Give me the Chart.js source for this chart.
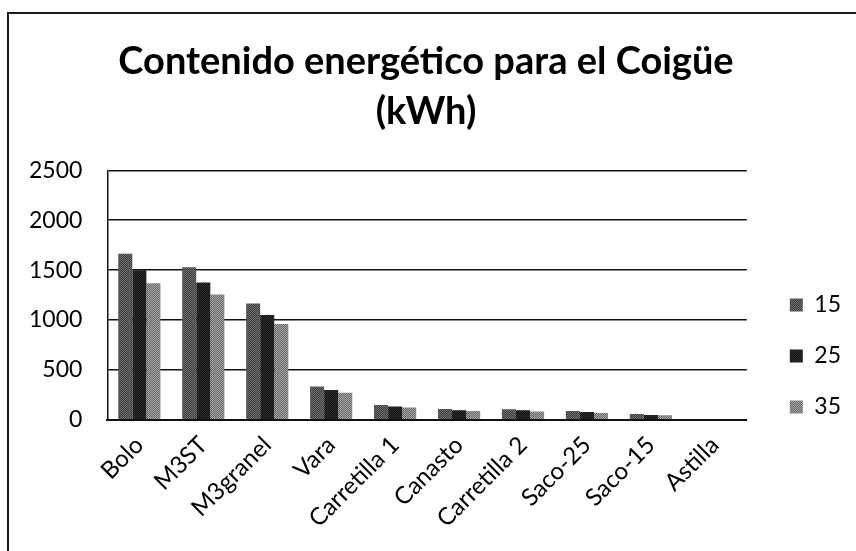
<!DOCTYPE html>
<html>
<head>
<meta charset="utf-8">
<script src="https://cdn.jsdelivr.net/npm/chart.js@4.4.0/dist/chart.umd.min.js"></script>
<style>
  body { margin: 0; background: #fff; }
  #wrap { position: relative; width: 856px; height: 551px; overflow: hidden; }
  #frame { position: absolute; left: 7px; top: 12px; width: 900px; height: 600px; border: 2px solid #1a1a1a; }
  canvas { position: absolute; left: 0; top: 0; }
</style>
</head>
<body>
<div id="wrap">
  <div id="frame"></div>
  <canvas id="chart" width="856" height="551"></canvas>
</div>
<script>
// Data
var categories = ['Bolo', 'M3ST', 'M3granel', 'Vara', 'Carretilla 1', 'Canasto', 'Carretilla 2', 'Saco-25', 'Saco-15', 'Astilla'];
var seriesNames = ['15', '25', '35'];
var values15 = [1665, 1530, 1165, 335, 150, 110, 107, 88, 58, 0];
var values25 = [1500, 1375, 1050, 300, 135, 96, 97, 80, 50, 0];
var values35 = [1368, 1255, 960, 272, 125, 88, 85, 70, 46, 0];
var yTicks = [0, 500, 1000, 1500, 2000, 2500];

var colors = {
	s15: ['#3c3c3c', '#707070'],
	s25: ['#111111', '#303030'],
	s35: ['#6a6a6a', '#a4a4a4'],
	line: '#111111',
	text: '#000000'
};

var font = "Lato, 'Open Sans', sans-serif";

// small checker pattern so the bars look dithered like the printed original
function makePattern(c) {
	var p = document.createElement('canvas');
	p.width = 4;
	p.height = 4;
	var pc = p.getContext('2d');
	pc.fillStyle = c[0];
	pc.fillRect(0, 0, 4, 4);
	pc.fillStyle = c[1];
	for (var y = 0; y < 4; y++) {
		for (var x = 0; x < 4; x++) {
			if ((x + y) % 2 == 0) pc.fillRect(x, y, 1, 1);
		}
	}
	return pc.createPattern(p, 'repeat');
}

// nudge legend and title to where they sit in the original
var nudge = {
	id: 'nudge',
	afterLayout: function(chart) {
		chart.legend.left += 15;
		chart.legend.right += 15;
		chart.legend.top += 78;
		chart.legend.bottom += 78;
		chart.titleBlock.left += 6;
		chart.titleBlock.right += 6;
	}
};

var ctx = document.getElementById('chart').getContext('2d');
var chart = new Chart(ctx, {
	type: 'bar',
	data: {
		labels: categories,
		datasets: [
			{ label: seriesNames[0], data: values15, backgroundColor: makePattern(colors.s15) },
			{ label: seriesNames[1], data: values25, backgroundColor: makePattern(colors.s25) },
			{ label: seriesNames[2], data: values35, backgroundColor: makePattern(colors.s35) }
		]
	},
	plugins: [nudge],
	options: {
		responsive: false,
		animation: false,
		layout: { padding: { left: 4, right: 20, top: 20, bottom: 15 } },
		datasets: {
			bar: { categoryPercentage: 0.66, barPercentage: 1.0, borderWidth: 0 }
		},
		plugins: {
			title: {
				display: true,
				text: ['Contenido energético para el Coigüe', '(kWh)'],
				color: colors.text,
				font: { family: font, size: 38, weight: 'bold', lineHeight: 1.32 },
				padding: { top: 17, bottom: 33 }
			},
			legend: {
				position: 'right',
				align: 'center',
				labels: {
					color: colors.text,
					font: { family: font, size: 23 },
					boxWidth: 13,
					boxHeight: 13,
					padding: 28
				}
			},
			tooltip: { enabled: false }
		},
		scales: {
			x: {
				grid: { display: false },
				border: { display: true, color: colors.line, width: 2 },
				ticks: {
					color: colors.text,
					font: { family: font, size: 24 },
					minRotation: 45,
					maxRotation: 45,
					autoSkip: false
				}
			},
			y: {
				min: yTicks[0],
				max: yTicks[yTicks.length - 1],
				afterBuildTicks: function(axis) {
					axis.ticks = yTicks.map(function(v) { return { value: v }; });
				},
				grid: { color: colors.line, lineWidth: 1.5, drawTicks: false },
				border: { display: true, color: colors.line, width: 1.5 },
				ticks: {
					color: colors.text,
					font: { family: font, size: 23 },
					padding: 25,
					callback: function(v) { return String(v); }
				}
			}
		}
	}
});
</script>
</body>
</html>
